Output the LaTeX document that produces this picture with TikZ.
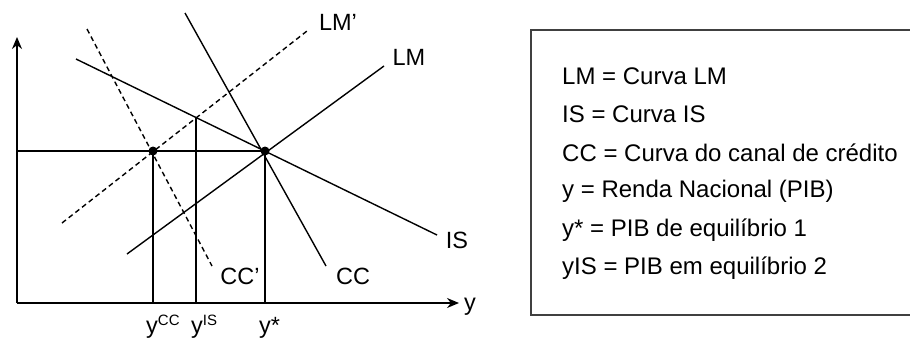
\documentclass[tikz,border=0pt]{standalone}
\usepackage{fontspec}
\setmainfont{Liberation Sans}
\usetikzlibrary{arrows.meta}
\newcommand{\supr}[1]{\raisebox{0.62ex}{\fontsize{15}{15}\selectfont #1}}
\begin{document}
\begin{tikzpicture}[x=1pt,y=-1pt,
  curve/.style={line width=1.4pt},
  dashcurve/.style={line width=1.4pt,dash pattern=on 5pt off 3.5pt},
  axis/.style={line width=1.4pt,-{Stealth[length=12pt,width=10pt]}},
  lbl/.style={font=\fontsize{23.5}{27}\selectfont,inner sep=0pt},
  legend/.style={font=\fontsize{24}{28}\selectfont,inner sep=0pt,anchor=west},
  dot/.style={circle,fill=black,inner sep=0pt,minimum size=9pt}]
\useasboundingbox (0,0) rectangle (910,341);
% axes
\coordinate (O) at (17,303);
\coordinate (Ytop) at (17,37);
\coordinate (Xend) at (459,303);
\draw[axis] (O) -- (Ytop);
\draw[axis] (O) -- (Xend);
% curves
\coordinate (IS1) at (76,59);   \coordinate (IS2) at (437,235);
\coordinate (LM1) at (127,254); \coordinate (LM2) at (384,66);
\coordinate (CC1) at (185,13);  \coordinate (CC2) at (326,266);
\coordinate (LMp1) at (62,223); \coordinate (LMp2) at (307,31);
\coordinate (CCp1) at (87,29);  \coordinate (CCp2) at (212,266);
\draw[curve] (IS1) -- (IS2);
\draw[curve] (LM1) -- (LM2);
\draw[curve] (CC1) -- (CC2);
\draw[dashcurve] (LMp1) -- (LMp2);
\draw[dashcurve] (CCp1) -- (CCp2);
% equilibrium points and guides
\coordinate (Hl) at (17,151);
\node[dot] (A) at (153,151) {};
\node[dot] (E) at (265,151) {};
\coordinate (B) at (196,117.5);
\coordinate (Ab) at (153,303);
\coordinate (Bb) at (196,303);
\coordinate (Eb) at (265,303);
\draw[curve] (Hl) -- (E.center);
\draw[curve] (A.center) -- (Ab);
\draw[curve] (B) -- (Bb);
\draw[curve] (E.center) -- (Eb);
% labels
\node[lbl] (tLMp) at (338,22) {LM’};
\node[lbl] (tLM) at (409,57) {LM};
\node[lbl] (tIS) at (457,240) {IS};
\node[lbl] (tCCp) at (240,276) {CC’};
\node[lbl] (tCC) at (353,276) {CC};
\node[lbl,anchor=base west] (ty) at (464,310) {y};
\node[lbl,anchor=base west] (tycc) at (146,333) {y\supr{CC}};
\node[lbl,anchor=base west] (tyis) at (191,333) {y\supr{IS}};
\node[lbl,anchor=base west] (tys) at (259,333) {y*};
% legend box
\coordinate (b1) at (912,30);
\coordinate (b2) at (531,30);
\coordinate (b3) at (531,315);
\coordinate (b4) at (912,315);
\draw[line width=1.1pt,color=black!75] (b1) -- (b2) -- (b3) -- (b4);
\node[legend] (l1) at (562,76) {LM = Curva LM};
\node[legend] (l2) at (562,114.5) {IS = Curva IS};
\node[legend] (l3) at (562,153) {CC = Curva do canal de crédito};
\node[legend] (l4) at (562,191.5) {y = Renda Nacional (PIB)};
\node[legend] (l5) at (562,230) {y* = PIB de equilíbrio 1};
\node[legend] (l6) at (562,268.5) {yIS = PIB em equilíbrio 2};
\end{tikzpicture}
\end{document}
